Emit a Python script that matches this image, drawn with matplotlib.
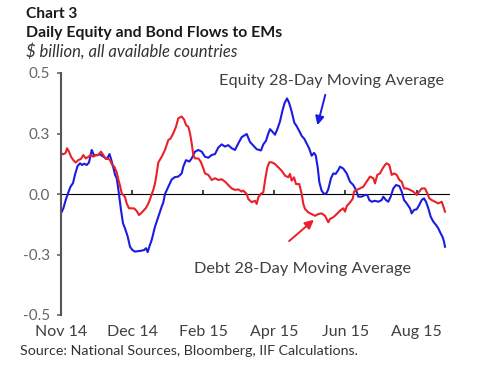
import matplotlib
matplotlib.use("Agg")
import matplotlib.pyplot as plt

plt.rcParams['font.family'] = ['Lato', 'DejaVu Sans']

# x = observation index (each month label ~71 steps apart), values in $ billion
equity_x = [0, 2.3, 4.7, 7, 9.5, 12, 14, 16.5, 19, 21, 23.3, 25.7, 28, 30.7, 33, 36, 38.5, 41,
            44, 46, 48.5, 50, 52.3, 54, 55.7, 57, 58.3, 60, 62, 64, 66.7, 69, 71.3, 74, 77.3,
            80.7, 83.3, 85, 86.7, 88.3, 90.7, 92.5, 94, 97.3, 100.7, 102.3, 104, 107.3, 110.7,
            114, 117.3, 120.7, 122.3, 125, 128.3, 130.7, 134, 137.3, 140.7, 144, 147.3, 150.7,
            154, 157.3, 160.7, 164, 167.3, 170.7, 174, 177.3, 180.7, 185.7, 189, 192.3, 195.7,
            200, 202.3, 205, 207.3, 209, 211.3, 214, 216.7, 219, 221.5, 223.5, 226, 228, 230.7,
            233.3, 235.7, 238.3, 240.7, 243.3, 245.7, 248, 250.7, 253, 254.7, 256.7, 258.3,
            260.5, 262.5, 264, 265.7, 267.3, 270, 272.3, 274.7, 277.3, 279, 282.3, 285.7, 289,
            292.3, 295, 297.3, 300.7, 304, 306.3, 308.3, 310.7, 314, 317.3, 320.7, 322.3, 325,
            327.3, 329.7, 332.3, 335, 338.3, 340.7, 343, 345.7, 349, 350.7, 353, 355.7, 358.3,
            360.7, 363, 365, 367.3, 369.7, 372.3, 375, 377.3, 379.7, 381.7, 383, 384]
equity = [-0.08, -0.06, -0.025, 0.003, 0.03, 0.045, 0.08, 0.115, 0.127, 0.12, 0.125, 0.12, 0.13,
          0.182, 0.16, 0.16, 0.165, 0.158, 0.15, 0.145, 0.165, 0.145, 0.11, 0.08, 0.065, 0.03,
          -0.011, -0.066, -0.121, -0.142, -0.176, -0.218, -0.231, -0.238, -0.236, -0.234, -0.231,
          -0.224, -0.24, -0.218, -0.19, -0.16, -0.135, -0.094, -0.052, -0.035, 0.0, 0.03, 0.06,
          0.07, 0.072, 0.085, 0.113, 0.14, 0.134, 0.147, 0.175, 0.182, 0.175, 0.154, 0.15, 0.161,
          0.165, 0.192, 0.205, 0.196, 0.202, 0.189, 0.182, 0.209, 0.235, 0.248, 0.215, 0.2,
          0.185, 0.18, 0.205, 0.22, 0.25, 0.268, 0.258, 0.245, 0.272, 0.3, 0.345, 0.375, 0.395,
          0.378, 0.34, 0.295, 0.28, 0.26, 0.24, 0.228, 0.209, 0.19, 0.158, 0.17, 0.16, 0.11,
          0.05, 0.015, 0.003, 0.0, 0.005, 0.02, 0.065, 0.085, 0.083, 0.099, 0.113, 0.105, 0.085,
          0.051, 0.037, 0.017, -0.011, -0.011, -0.004, -0.004, -0.025, -0.032, -0.028, -0.032,
          -0.025, -0.011, -0.025, -0.032, -0.011, 0.023, 0.037, 0.033, 0.01, -0.025, -0.039,
          -0.059, -0.08, -0.066, -0.063, -0.045, -0.025, -0.018, -0.032, -0.059, -0.094, -0.114,
          -0.128, -0.142, -0.163, -0.179, -0.197, -0.218]

debt_x = [0, 2.3, 4.7, 6, 8, 10, 12.3, 14.7, 17.3, 20, 22.3, 24.7, 27.3, 30, 32.3, 34.7, 37.3, 40,
          42.3, 44.7, 47.3, 49, 51.3, 53.3, 55.7, 57.3, 59, 60.7, 62.3, 64, 65.7, 68, 70.7, 73.3,
          75.7, 78, 80, 82.3, 84.7, 87.3, 90, 92.3, 94, 95.7, 97.3, 100.7, 104, 107.3, 109.7,
          112.3, 115, 117.3, 120.7, 123.3, 125, 127.3, 129, 130.7, 132.3, 134, 137.3, 139.7,
          142.3, 144, 147.3, 150.7, 154, 157.3, 160.7, 164, 167.3, 170.7, 174, 177.3, 180.7,
          182.3, 185.7, 187.3, 190.7, 194, 195.7, 197.3, 199.7, 202.3, 204, 206.3, 208.3, 210.7,
          214, 217.3, 220.7, 224, 227.3, 229, 230.7, 233, 235, 238.3, 240.7, 242.3, 244, 247.3,
          250.7, 254, 257.3, 260.7, 264, 267.3, 269, 272.3, 275.7, 279, 282.3, 284, 285.7, 289,
          291.7, 293, 295.7, 299, 302.3, 305.7, 309, 312.3, 314, 316.3, 319, 321.7, 324, 325.7,
          328.3, 330.7, 333, 335.7, 338.3, 340.7, 343, 345.7, 349, 352.3, 355.7, 358.3, 360.7,
          364, 366.3, 368.3, 370.7, 374, 377.3, 380.7, 383, 384]
debt = [0.168, 0.164, 0.17, 0.189, 0.175, 0.154, 0.14, 0.13, 0.14, 0.145, 0.161, 0.147, 0.154,
        0.161, 0.154, 0.161, 0.161, 0.175, 0.161, 0.145, 0.145, 0.14, 0.12, 0.113, 0.09, 0.06,
        0.035, 0.003, -0.004, -0.012, -0.039, -0.059, -0.059, -0.06, -0.07, -0.087, -0.08, -0.07,
        -0.059, -0.04, -0.01, 0.017, 0.044, 0.085, 0.13, 0.154, 0.182, 0.223, 0.23, 0.251, 0.278,
        0.313, 0.32, 0.306, 0.285, 0.278, 0.251, 0.209, 0.161, 0.147, 0.147, 0.134, 0.106, 0.085,
        0.079, 0.058, 0.065, 0.058, 0.061, 0.051, 0.037, 0.023, 0.017, 0.019, 0.01, 0.014, 0.0,
        -0.021, -0.034, -0.028, -0.041, -0.014, 0.0, 0.007, 0.055, 0.11, 0.131, 0.131, 0.124,
        0.11, 0.096, 0.076, 0.069, 0.083, 0.055, 0.069, 0.041, 0.041, 0.0, -0.041, -0.062,
        -0.076, -0.083, -0.09, -0.083, -0.08, -0.09, -0.117, -0.103, -0.096, -0.083, -0.069,
        -0.059, -0.073, -0.05, -0.035, -0.02, 0.01, 0.017, 0.023, 0.03, 0.051, 0.072, 0.065,
        0.044, 0.079, 0.085, 0.106, 0.12, 0.127, 0.12, 0.079, 0.085, 0.079, 0.058, 0.051, 0.023,
        0.023, 0.017, 0.01, -0.004, 0.01, 0.023, 0.023, 0.003, -0.018, -0.025, -0.032, -0.039,
        -0.032, -0.059, -0.073]

tick_pos = [0, 71.1, 142.2, 213.3, 284.4, 355.5]
tick_labels = ['Nov 14', 'Dec 14', 'Feb 15', 'Apr 15', 'Jun 15', 'Aug 15']
y_ticks = [-0.5, -0.25, 0, 0.25, 0.5]
y_labels = ['-0.5', '-0.3', '0.0', '0.3', '0.5']

blue = '#1c1ce0'
red = '#e8212a'

fig = plt.figure(figsize=(4.88, 3.66), dpi=100)
ax = fig.add_axes([61 / 488, 1 - 315 / 366, 388 / 488, 242 / 366])

ax.plot(equity_x, equity, color=blue, lw=1.5)
ax.plot(debt_x, debt, color=red, lw=1.5)

ax.set_xlim(0, 388)
ax.set_ylim(-0.5, 0.5)
ax.set_yticks(y_ticks, y_labels)
ax.set_xticks(tick_pos, tick_labels)
ax.tick_params(axis='x', length=0, labelsize=11.5, colors='#404040', pad=7)
ax.tick_params(axis='y', length=3, width=1.2, labelsize=11, colors='#666666', pad=5)
for s in ['top', 'right', 'bottom']:
    ax.spines[s].set_visible(False)
ax.spines['left'].set_color('#555555')
ax.spines['left'].set_linewidth(1.5)

# zero line with month ticks
zero = ax.secondary_xaxis(0.5)
zero.set_xticks(tick_pos[1:], [])
zero.tick_params(length=3, width=1.2, color='#222222', direction='out')
zero.spines['bottom'].set_color('#222222')
zero.spines['bottom'].set_linewidth(1.5)

ax.text(271, 0.468, 'Equity 28-Day Moving Average', ha='center', va='center',
        fontsize=11.7, color='#404040')
ax.text(241.5, -0.31, 'Debt 28-Day Moving Average', ha='center', va='center',
        fontsize=11.8, color='#404040')
ax.annotate('', xy=(255.7, 0.273), xytext=(265, 0.421),
            arrowprops=dict(arrowstyle='-|>', color=blue, lw=1.4, mutation_scale=13))
ax.annotate('', xy=(255, -0.099), xytext=(226, -0.202),
            arrowprops=dict(arrowstyle='-|>', color=red, lw=1.4, mutation_scale=13))

fig.text(26 / 488, 1 - 14 / 366, 'Chart 3', fontsize=11.2, fontweight='bold',
         color='#1a1a1a', va='center')
fig.text(26 / 488, 1 - 33 / 366, 'Daily Equity and Bond Flows to EMs', fontsize=11.4,
         fontweight='bold', color='#1a1a1a', va='center')
fig.text(26 / 488, 1 - 51 / 366, '$ billion, all available countries', fontsize=12,
         style='italic', color='#333333', va='center')
fig.text(20 / 488, 1 - 351 / 366, 'Source: National Sources, Bloomberg, IIF Calculations.',
         fontsize=10.3, color='#333333', va='center')

fig.savefig('out.png', dpi=100)
